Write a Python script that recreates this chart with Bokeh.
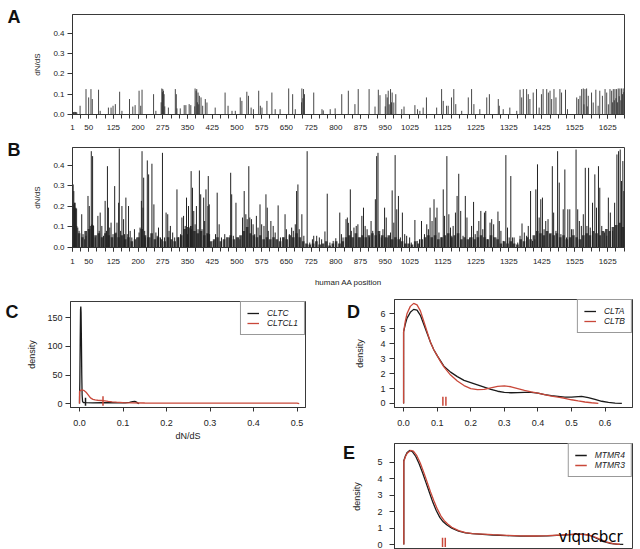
from bokeh.plotting import figure
from bokeh.models import FixedTicker, PrintfTickFormatter, Label, Legend, LegendItem, Range1d
from bokeh.layouts import column, row
from bokeh.embed import file_html
from bokeh.resources import INLINE

# ---------------- data ----------------
aa_tick_labels = [1, 50, 125, 200, 275, 350, 425, 500, 575, 650, 725, 800, 875, 950,
                  1025, 1125, 1225, 1325, 1425, 1525, 1625]
aa_minor_ticks = [1] + list(range(25, 1676, 25))
dnds_ticks = [0.0, 0.1, 0.2, 0.3, 0.4]

# Panel A: CLTC per-position dN/dS
a_pos = [1, 4, 6, 8, 10, 12, 14, 24, 42, 50, 57, 61, 80, 85, 110, 118, 124, 131, 144, 151,
         174, 184, 191, 203, 208, 212, 247, 254, 270, 272, 274, 275, 277, 279, 281, 292, 313,
         316, 318, 328, 340, 345, 355, 360, 372, 373, 376, 378, 380, 382, 384, 386, 391, 396,
         404, 409, 434, 464, 473, 485, 495, 510, 515, 530, 535, 543, 550, 566, 571, 576, 591,
         606, 616, 631, 657, 669, 677, 696, 697, 700, 702, 705, 733, 758, 762, 783, 798, 818,
         838, 858, 868, 901, 919, 929, 934, 950, 952, 956, 959, 962, 966, 969, 971, 976, 982,
         1000, 1007, 1040, 1048, 1055, 1065, 1075, 1106, 1121, 1126, 1136, 1141, 1151, 1158,
         1164, 1182, 1202, 1212, 1219, 1237, 1258, 1266, 1293, 1296, 1308, 1328, 1349, 1359,
         1364, 1369, 1379, 1384, 1389, 1399, 1409, 1417, 1424, 1429, 1440, 1445, 1450, 1455,
         1462, 1468, 1480, 1485, 1497, 1503, 1531, 1536, 1541, 1546, 1551, 1553, 1556, 1561,
         1563, 1566, 1576, 1581, 1589, 1596, 1601, 1609, 1617, 1622, 1627, 1632, 1637, 1640,
         1642, 1645, 1647, 1650, 1652, 1655, 1657, 1660, 1662, 1665, 1667, 1670, 1672, 1674]
a_val = [0.095, 0.012, 0.012, 0.013, 0.012, 0.012, 0.010, 0.043, 0.125, 0.084, 0.125, 0.076,
         0.122, 0.018, 0.034, 0.034, 0.043, 0.051, 0.112, 0.018, 0.076, 0.039, 0.046, 0.117,
         0.043, 0.122, 0.100, 0.018, 0.060, 0.128, 0.110, 0.125, 0.117, 0.100, 0.040, 0.034,
         0.125, 0.100, 0.030, 0.030, 0.046, 0.046, 0.051, 0.046, 0.040, 0.128, 0.117, 0.125,
         0.060, 0.108, 0.050, 0.092, 0.084, 0.043, 0.076, 0.059, 0.034, 0.108, 0.043, 0.018,
         0.018, 0.084, 0.067, 0.112, 0.092, 0.034, 0.026, 0.117, 0.043, 0.034, 0.067, 0.108,
         0.026, 0.026, 0.128, 0.100, 0.026, 0.060, 0.128, 0.080, 0.125, 0.100, 0.108, 0.026,
         0.020, 0.026, 0.030, 0.100, 0.117, 0.051, 0.125, 0.125, 0.039, 0.122, 0.095, 0.040,
         0.100, 0.084, 0.117, 0.050, 0.125, 0.060, 0.108, 0.059, 0.100, 0.026, 0.039, 0.046,
         0.026, 0.018, 0.034, 0.084, 0.034, 0.125, 0.067, 0.043, 0.043, 0.084, 0.125, 0.051,
         0.018, 0.084, 0.125, 0.051, 0.026, 0.084, 0.100, 0.076, 0.043, 0.026, 0.034, 0.018,
         0.122, 0.084, 0.125, 0.125, 0.100, 0.076, 0.108, 0.125, 0.034, 0.100, 0.125, 0.125,
         0.108, 0.117, 0.076, 0.125, 0.084, 0.125, 0.108, 0.122, 0.026, 0.084, 0.076, 0.092,
         0.125, 0.128, 0.050, 0.125, 0.128, 0.040, 0.092, 0.108, 0.059, 0.122, 0.043, 0.117,
         0.092, 0.125, 0.108, 0.050, 0.125, 0.117, 0.060, 0.125, 0.070, 0.125, 0.080, 0.125,
         0.060, 0.128, 0.090, 0.128, 0.070, 0.128, 0.100, 0.128, 0.110]

# Panel B: CLTCL1 per-position dN/dS (prominent bars)
b_pos = [1, 3, 5, 7, 9, 11, 14, 17, 21, 29, 33, 38, 42, 48, 52, 55, 58, 60, 62, 65, 70, 78, 82,
         85, 90, 95, 100, 104, 107, 110, 114, 118, 124, 129, 133, 136, 141, 143, 147, 151, 156,
         159, 163, 167, 171, 176, 181, 189, 196, 203, 206, 210, 212, 215, 217, 220, 222, 228,
         232, 236, 242, 248, 254, 258, 262, 268, 274, 280, 285, 290, 294, 298, 305, 311, 318,
         323, 329, 333, 338, 343, 347, 350, 353, 357, 359, 361, 363, 365, 369, 373, 377, 382,
         386, 390, 394, 399, 402, 406, 411, 412, 413, 416, 417, 428, 435, 440, 446, 453, 463,
         477, 481, 484, 489, 497, 504, 509, 517, 522, 527, 531, 536, 539, 544, 549, 554, 559,
         564, 570, 575, 582, 588, 592, 595, 603, 610, 616, 625, 632, 640, 646, 650, 659, 666,
         671, 677, 681, 685, 689, 697, 703, 713, 721, 729, 733, 742, 750, 757, 767, 774, 782,
         792, 800, 812, 817, 822, 831, 835, 838, 844, 847, 855, 862, 867, 874, 879, 884, 889,
         895, 902, 907, 912, 920, 924, 928, 932, 938, 943, 948, 953, 958, 966, 971, 976, 980,
         985, 990, 996, 1002, 1009, 1015, 1024, 1029, 1040, 1047, 1054, 1060, 1069, 1076, 1081,
         1086, 1092, 1098, 1103, 1107, 1113, 1120, 1126, 1130, 1137, 1143, 1148, 1152, 1156,
         1163, 1168, 1173, 1179, 1186, 1193, 1198, 1206, 1212, 1218, 1223, 1229, 1234, 1240,
         1246, 1251, 1255, 1260, 1268, 1273, 1279, 1286, 1292, 1296, 1301, 1308, 1316, 1321,
         1326, 1331, 1336, 1341, 1352, 1359, 1365, 1372, 1379, 1384, 1391, 1397, 1404, 1407,
         1412, 1417, 1422, 1427, 1432, 1437, 1444, 1450, 1457, 1461, 1468, 1473, 1478, 1483,
         1490, 1495, 1500, 1504, 1510, 1515, 1520, 1529, 1534, 1539, 1545, 1551, 1557, 1562,
         1567, 1572, 1579, 1586, 1591, 1597, 1601, 1607, 1615, 1622, 1627, 1633, 1640, 1646,
         1653, 1658, 1663, 1667, 1671, 1674]
b_val = [0.405, 0.307, 0.275, 0.218, 0.218, 0.194, 0.105, 0.097, 0.081, 0.162, 0.065, 0.040,
         0.057, 0.251, 0.202, 0.105, 0.469, 0.113, 0.445, 0.105, 0.049, 0.154, 0.081, 0.170,
         0.105, 0.057, 0.227, 0.081, 0.396, 0.194, 0.097, 0.121, 0.065, 0.299, 0.073, 0.121,
         0.218, 0.482, 0.081, 0.202, 0.138, 0.065, 0.243, 0.065, 0.202, 0.081, 0.049, 0.089,
         0.049, 0.073, 0.097, 0.227, 0.469, 0.194, 0.340, 0.081, 0.049, 0.424, 0.356, 0.049,
         0.408, 0.210, 0.073, 0.057, 0.097, 0.049, 0.461, 0.049, 0.170, 0.162, 0.081, 0.105,
         0.073, 0.049, 0.283, 0.049, 0.065, 0.146, 0.154, 0.105, 0.243, 0.065, 0.202, 0.097,
         0.105, 0.372, 0.105, 0.291, 0.178, 0.113, 0.202, 0.089, 0.375, 0.259, 0.089, 0.243,
         0.129, 0.283, 0.065, 0.202, 0.348, 0.210, 0.065, 0.032, 0.065, 0.267, 0.113, 0.049,
         0.065, 0.049, 0.364, 0.259, 0.057, 0.218, 0.049, 0.040, 0.146, 0.275, 0.162, 0.138,
         0.396, 0.146, 0.138, 0.113, 0.065, 0.154, 0.097, 0.210, 0.113, 0.105, 0.259, 0.194,
         0.081, 0.129, 0.105, 0.073, 0.205, 0.049, 0.049, 0.162, 0.089, 0.065, 0.097, 0.081,
         0.113, 0.275, 0.307, 0.089, 0.162, 0.057, 0.469, 0.024, 0.040, 0.057, 0.057, 0.049,
         0.040, 0.078, 0.262, 0.024, 0.032, 0.045, 0.170, 0.065, 0.049, 0.138, 0.146, 0.120,
         0.283, 0.081, 0.097, 0.105, 0.113, 0.049, 0.154, 0.194, 0.105, 0.089, 0.049, 0.129,
         0.081, 0.235, 0.445, 0.461, 0.065, 0.049, 0.089, 0.194, 0.146, 0.049, 0.073, 0.278,
         0.121, 0.450, 0.186, 0.251, 0.049, 0.170, 0.065, 0.057, 0.049, 0.024, 0.134, 0.032,
         0.040, 0.129, 0.065, 0.113, 0.089, 0.194, 0.129, 0.235, 0.146, 0.194, 0.073, 0.049,
         0.283, 0.154, 0.445, 0.162, 0.097, 0.057, 0.105, 0.170, 0.251, 0.359, 0.178, 0.057,
         0.251, 0.146, 0.049, 0.105, 0.222, 0.065, 0.081, 0.129, 0.178, 0.089, 0.170, 0.178,
         0.040, 0.121, 0.138, 0.113, 0.049, 0.175, 0.129, 0.081, 0.032, 0.450, 0.097, 0.049,
         0.348, 0.049, 0.049, 0.024, 0.057, 0.117, 0.073, 0.057, 0.105, 0.275, 0.032, 0.040,
         0.283, 0.405, 0.146, 0.235, 0.243, 0.089, 0.129, 0.138, 0.065, 0.396, 0.170, 0.081,
         0.469, 0.316, 0.065, 0.186, 0.380, 0.049, 0.186, 0.186, 0.089, 0.089, 0.477, 0.186,
         0.129, 0.105, 0.162, 0.388, 0.105, 0.388, 0.097, 0.218, 0.356, 0.194, 0.396, 0.291,
         0.105, 0.073, 0.057, 0.243, 0.170, 0.081, 0.218, 0.453, 0.469, 0.477, 0.324, 0.421,
         0.275]

# Panel B: dense low-level background, one value per 10 positions starting at 1
b_low_step = 10
b_low_val = [0.21, 0.19, 0.07, 0.05, 0.08, 0.09, 0.11, 0.06, 0.07, 0.05,
             0.07, 0.06, 0.05, 0.07, 0.05, 0.06, 0.04, 0.05, 0.03, 0.04,
             0.05, 0.09, 0.06, 0.05, 0.07, 0.04, 0.05, 0.04, 0.03, 0.05,
             0.04, 0.03, 0.05, 0.06, 0.09, 0.10, 0.09, 0.08, 0.07, 0.08,
             0.06, 0.07, 0.03, 0.04, 0.05, 0.03, 0.04, 0.05, 0.06, 0.04,
             0.05, 0.06, 0.08, 0.10, 0.07, 0.06, 0.05, 0.06, 0.04, 0.05,
             0.04, 0.05, 0.04, 0.03, 0.05, 0.04, 0.06, 0.05, 0.07, 0.05,
             0.03, 0.02, 0.015, 0.02, 0.03, 0.015, 0.02, 0.03, 0.01, 0.02,
             0.03, 0.02, 0.03, 0.05, 0.06, 0.05, 0.07, 0.05, 0.06, 0.05,
             0.06, 0.07, 0.06, 0.08, 0.06, 0.05, 0.06, 0.04, 0.05, 0.04,
             0.03, 0.02, 0.02, 0.015, 0.03, 0.02, 0.04, 0.05, 0.06, 0.05,
             0.06, 0.04, 0.05, 0.06, 0.07, 0.05, 0.06, 0.07, 0.04, 0.05,
             0.04, 0.05, 0.04, 0.05, 0.06, 0.05, 0.04, 0.06, 0.05, 0.04,
             0.02, 0.03, 0.02, 0.03, 0.02, 0.015, 0.04, 0.03, 0.05, 0.04,
             0.06, 0.08, 0.07, 0.06, 0.08, 0.07, 0.06, 0.07, 0.05, 0.06,
             0.04, 0.05, 0.06, 0.05, 0.04, 0.06, 0.07, 0.06, 0.08, 0.07,
             0.06, 0.08, 0.09, 0.08, 0.10, 0.11, 0.12, 0.10]

# Panel C densities
c_ticks_x = [0.0, 0.1, 0.2, 0.3, 0.4, 0.5]
c_ticks_y = [0, 50, 100, 150]
cltc_x = [0, 0.0008, 0.0016, 0.0024, 0.003, 0.0036, 0.0044, 0.0052, 0.006, 0.007, 0.009, 0.015,
          0.03, 0.05, 0.07, 0.09, 0.105, 0.115, 0.122, 0.127, 0.131, 0.134, 0.137]
cltc_y = [0, 40, 110, 165, 170, 160, 110, 50, 15, 4, 1.8, 1.5, 1.2, 1.4, 1.6, 1.3, 1.2, 2.0, 3.5,
          3.8, 2.5, 0.8, 0]
cltcl1_x = [0, 0, 0.003, 0.007, 0.011, 0.015, 0.019, 0.023, 0.027, 0.031, 0.036, 0.042, 0.05,
            0.058, 0.066, 0.075, 0.085, 0.1, 0.12, 0.15, 0.2, 0.3, 0.4, 0.5, 0.505]
cltcl1_y = [0, 21, 23.5, 23.8, 22.5, 20, 16, 12, 9, 7.3, 6.3, 5.8, 5.4, 4.7, 3.8, 3.0, 2.4, 1.8,
            1.3, 1.0, 0.9, 0.8, 0.7, 0.6, 0]
c_means = [0.0138, 0.054]

# Panel D densities
d_ticks_x = [0.0, 0.1, 0.2, 0.3, 0.4, 0.5, 0.6]
d_ticks_y = [0, 1, 2, 3, 4, 5, 6]
clta_x = [0, 0, 0.005, 0.01, 0.02, 0.03, 0.04, 0.05, 0.06, 0.07, 0.08, 0.09, 0.1, 0.11, 0.12,
          0.14, 0.16, 0.18, 0.2, 0.22, 0.24, 0.26, 0.28, 0.3, 0.32, 0.34, 0.36, 0.38, 0.4, 0.42,
          0.44, 0.46, 0.48, 0.5, 0.52, 0.53, 0.55, 0.57, 0.59, 0.61, 0.63, 0.65]
clta_y = [0, 4.8, 5.3, 5.7, 6.1, 6.3, 6.25, 5.9, 5.3, 4.7, 4.1, 3.6, 3.2, 2.85, 2.5, 2.1, 1.8,
          1.55, 1.4, 1.25, 1.1, 0.95, 0.82, 0.75, 0.72, 0.73, 0.75, 0.75, 0.7, 0.6, 0.52, 0.47,
          0.42, 0.42, 0.46, 0.47, 0.4, 0.28, 0.15, 0.07, 0.03, 0.01]
cltb_x = [0, 0, 0.005, 0.01, 0.02, 0.03, 0.04, 0.05, 0.06, 0.07, 0.08, 0.09, 0.1, 0.11, 0.12,
          0.14, 0.16, 0.18, 0.2, 0.22, 0.24, 0.26, 0.28, 0.3, 0.32, 0.34, 0.36, 0.38, 0.4, 0.42,
          0.44, 0.46, 0.48, 0.5, 0.52, 0.54, 0.56, 0.58]
cltb_y = [0, 4.8, 5.5, 6.0, 6.5, 6.7, 6.6, 6.2, 5.5, 4.8, 4.1, 3.6, 3.2, 2.8, 2.45, 1.9, 1.5,
          1.2, 1.0, 0.93, 0.95, 1.05, 1.15, 1.18, 1.12, 1.0, 0.88, 0.78, 0.7, 0.6, 0.5, 0.42,
          0.35, 0.25, 0.17, 0.1, 0.05, 0.01]
d_means = [0.117, 0.126]

# Panel E densities
e_ticks_y = [0, 1, 2, 3, 4, 5]
mtmr4_x = [0, 0, 0.005, 0.01, 0.017, 0.025, 0.035, 0.045, 0.055, 0.065, 0.075, 0.085, 0.095,
           0.105, 0.115, 0.125, 0.14, 0.16, 0.18, 0.2, 0.23, 0.26, 0.3, 0.34, 0.38, 0.42, 0.46,
           0.5, 0.52, 0.54, 0.56, 0.58, 0.6, 0.62, 0.64]
mtmr4_y = [0, 5.1, 5.4, 5.6, 5.72, 5.65, 5.35, 4.9, 4.35, 3.75, 3.15, 2.55, 2.05, 1.65, 1.38,
           1.2, 1.0, 0.82, 0.71, 0.66, 0.62, 0.58, 0.54, 0.51, 0.51, 0.53, 0.57, 0.62, 0.64,
           0.58, 0.4, 0.2, 0.08, 0.03, 0.01]
mtmr3_x = [0, 0, 0.005, 0.01, 0.02, 0.028, 0.038, 0.048, 0.058, 0.068, 0.078, 0.088, 0.098,
           0.108, 0.118, 0.128, 0.14, 0.16, 0.18, 0.2, 0.23, 0.26, 0.3, 0.34, 0.38, 0.42, 0.46,
           0.5, 0.53, 0.55, 0.57, 0.59, 0.61, 0.63]
mtmr3_y = [0, 5.05, 5.35, 5.55, 5.72, 5.68, 5.4, 4.95, 4.4, 3.8, 3.2, 2.65, 2.15, 1.75, 1.45,
           1.25, 1.05, 0.85, 0.73, 0.67, 0.64, 0.6, 0.56, 0.53, 0.52, 0.54, 0.58, 0.63, 0.6,
           0.52, 0.35, 0.17, 0.06, 0.02]
e_means = [0.113, 0.121]

# ---------------- styling helpers ----------------
FONT = "Liberation Sans"
TXT = "#222222"
AX = "#333333"
RED = "#c9483a"
BLK = "#1a1a1a"


def base_fig(w, h, xr, yr, l, r, t, b, **kw):
    p = figure(width=w, height=h, x_range=Range1d(*xr), y_range=Range1d(*yr),
               output_backend="svg", toolbar_location=None,
               min_border_left=l, min_border_right=r, min_border_top=t, min_border_bottom=b, **kw)
    p.xgrid.visible = False
    p.ygrid.visible = False
    p.outline_line_color = "#3a3a3a"
    p.outline_line_width = 1
    p.outline_line_alpha = 1
    p.background_fill_color = "white"
    p.border_fill_color = "white"
    return p


def style_axis(ax, ticks, size, tick_out, standoff, fmt=None, minor=None,
               label=None, label_size=None, label_standoff=0):
    ax.ticker = FixedTicker(ticks=ticks, minor_ticks=minor or [])
    if fmt:
        ax.formatter = PrintfTickFormatter(format=fmt)
    ax.axis_line_color = AX
    ax.major_tick_line_color = AX
    ax.minor_tick_line_color = AX
    ax.major_tick_in = 0
    ax.major_tick_out = tick_out
    ax.minor_tick_in = 0
    ax.minor_tick_out = tick_out if minor else 0
    ax.major_label_text_font = FONT
    ax.major_label_text_font_size = size
    ax.major_label_text_color = TXT
    ax.major_label_standoff = standoff
    if label:
        ax.axis_label = label
        ax.axis_label_text_font = FONT
        ax.axis_label_text_font_size = label_size
        ax.axis_label_text_font_style = "normal"
        ax.axis_label_text_color = TXT
        ax.axis_label_standoff = label_standoff


def panel_letter(p, text, x, y):
    # placed in the left side panel so that it is not clipped to the plot frame
    p.add_layout(Label(x=x, y=y, x_units="screen", y_units="screen", text=text,
                       text_font=FONT, text_font_size="18px", text_font_style="bold",
                       text_color="#111111", text_baseline="alphabetic", text_align="left"),
                 "left")


def add_legend(p, items):
    leg = Legend(items=items, location="top_right", margin=0, padding=6, spacing=0,
                 glyph_width=12, glyph_height=10, label_height=10, label_standoff=8,
                 label_text_font=FONT, label_text_font_size="8.5px",
                 label_text_font_style="italic", label_text_color=TXT,
                 border_line_color=AX, border_line_width=1, background_fill_alpha=1)
    p.add_layout(leg)


# ---------------- Panel A ----------------
pA = base_fig(640, 132, (1, 1676), (0, 0.492), 72, 16, 14, 18)
style_axis(pA.xaxis[0], aa_tick_labels, "8px", 4, 6, minor=aa_minor_ticks)
style_axis(pA.yaxis[0], dnds_ticks, "8px", 5, 3, fmt="%.1f",
           label="dN/dS", label_size="8px", label_standoff=8)
pA.segment(x0=a_pos, y0=[0] * len(a_pos), x1=a_pos, y1=a_val, line_color="#333333",
           line_width=0.9)
panel_letter(pA, "A", -10, 97.8)

# ---------------- Panel B ----------------
pB = base_fig(640, 158, (1, 1676), (0, 0.487), 72, 16, 15, 43)
style_axis(pB.xaxis[0], aa_tick_labels, "8px", 4, 7, minor=aa_minor_ticks,
           label="human AA position", label_size="8px", label_standoff=11)
style_axis(pB.yaxis[0], dnds_ticks, "8px", 5, 3, fmt="%.1f",
           label="dN/dS", label_size="8px", label_standoff=8)
b_low_pos = [1 + b_low_step * i for i in range(len(b_low_val))]
pB.vbar(x=b_low_pos, top=b_low_val, bottom=0, width=8, fill_color=BLK, fill_alpha=0.8,
        line_color=None)
pB.segment(x0=b_pos, y0=[0] * len(b_pos), x1=b_pos, y1=b_val, line_color="#222222",
           line_width=1)
panel_letter(pB, "B", -10, 97.8)

# ---------------- Panel C ----------------
pC = base_fig(320, 153, (-0.0207, 0.5195), (-6.9, 178.8), 70, 15, 11, 36)
style_axis(pC.xaxis[0], c_ticks_x, "9px", 4, 8, fmt="%.1f",
           label="dN/dS", label_size="9px", label_standoff=2)
style_axis(pC.yaxis[0], c_ticks_y, "9px", 5, 3, label="density", label_size="9px",
           label_standoff=7)
rc1 = pC.line(cltc_x, cltc_y, line_color=BLK, line_width=1.3)
rc2 = pC.line(cltcl1_x, cltcl1_y, line_color=RED, line_width=1.3)
pC.segment(x0=c_means, y0=[-4, -4], x1=c_means, y1=[10, 13], line_color=[BLK, RED],
           line_width=1.5)
add_legend(pC, [LegendItem(label="CLTC", renderers=[rc1]),
                LegendItem(label="CLTCL1", renderers=[rc2])])
panel_letter(pC, "C", -6, 95.5)

# ---------------- Panel D ----------------
pD = base_fig(320, 142, (-0.0271, 0.6817), (-0.268, 6.96), 69, 8, 9, 25)
style_axis(pD.xaxis[0], d_ticks_x, "9px", 4, 8, fmt="%.1f")
style_axis(pD.yaxis[0], d_ticks_y, "9px", 5, 4, label="density", label_size="9px",
           label_standoff=12)
rd1 = pD.line(clta_x, clta_y, line_color=BLK, line_width=1.3)
rd2 = pD.line(cltb_x, cltb_y, line_color=RED, line_width=1.3)
pD.segment(x0=d_means, y0=[-0.15, -0.15], x1=d_means, y1=[0.45, 0.45], line_color=[RED, RED],
           line_width=1.5)
add_legend(pD, [LegendItem(label="CLTA", renderers=[rd1]),
                LegendItem(label="CLTB", renderers=[rd2])])
panel_letter(pD, "D", 7.5, 95.5)

# ---------------- Panel E ----------------
pE = base_fig(320, 117, (-0.0271, 0.667), (-0.3, 6.14), 74, 8, 11, 0, x_axis_location=None)
style_axis(pE.yaxis[0], e_ticks_y, "9px", 5, 7, label="density", label_size="9px",
           label_standoff=12)
re1 = pE.line(mtmr4_x, mtmr4_y, line_color=BLK, line_width=1.3)
re2 = pE.line(mtmr3_x, mtmr3_y, line_color=RED, line_width=1.3)
pE.segment(x0=e_means, y0=[-0.15, -0.15], x1=e_means, y1=[0.42, 0.42], line_color=[RED, RED],
           line_width=1.5)
add_legend(pE, [LegendItem(label="MTMR4", renderers=[re1]),
                LegendItem(label="MTMR3", renderers=[re2])])
panel_letter(pE, "E", 5.5, 96.5)
pE.add_layout(Label(x=164, y=12.3, x_units="screen", y_units="screen", text="vlqucbcr",
                    text_font="DejaVu Sans", text_font_size="15px", text_color="black",
                    text_baseline="alphabetic", text_align="left"))

layout = column(pA, pB, row(pC, column(pD, pE)))
open("out.html", "w").write(file_html(layout, INLINE))
